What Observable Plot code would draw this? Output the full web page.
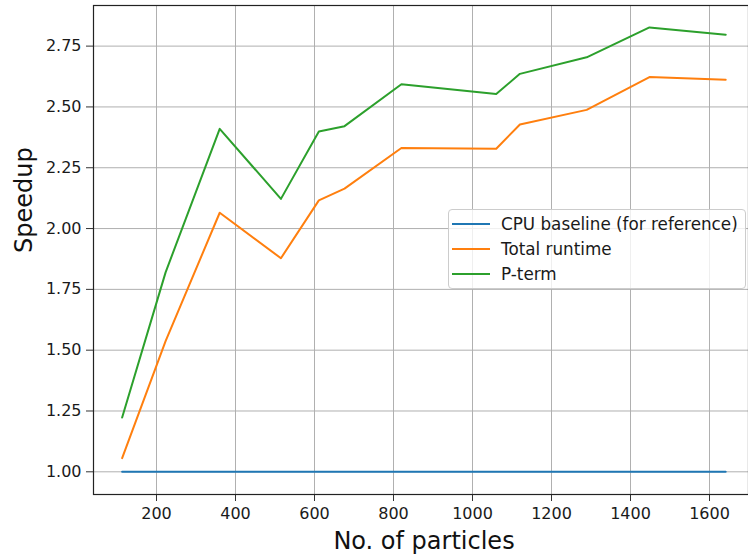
<!DOCTYPE html>
<html>
<head>
<meta charset="utf-8">
<script src="https://cdn.jsdelivr.net/npm/d3@7"></script>
<script src="https://cdn.jsdelivr.net/npm/@observablehq/plot@0.6"></script>
<style>
  html, body { margin: 0; padding: 0; background: #fff; overflow: hidden; }
  #wrap { position: relative; width: 748px; height: 556px; font-family: "DejaVu Sans", sans-serif; }
  #legend {
    position: absolute; left: 448px; top: 209px; width: 298px; height: 80px;
    background: rgba(255,255,255,0.8); border: 1px solid #cccccc; border-radius: 4px;
    box-sizing: border-box; font-size: 16.8px; color: #1a1a1a;
  }
  #legend .row { position: absolute; left: 0; height: 20px; }
  #legend .sw { position: absolute; left: 3px; width: 38px; height: 2px; }
  #legend .lab { position: absolute; left: 52px; top: 0; white-space: nowrap; line-height: 20px; }
</style>
</head>
<body>
<div id="wrap"></div>
<script>
const particles = [113, 223, 360, 515, 611, 676, 820, 1060, 1120, 1289, 1448, 1641];
const cpuBaseline = [1, 1, 1, 1, 1, 1, 1, 1, 1, 1, 1, 1];
const totalRuntime = [1.056, 1.537, 2.065, 1.878, 2.116, 2.164, 2.331, 2.328, 2.428, 2.488, 2.623, 2.612];
const pTerm = [1.223, 1.82, 2.41, 2.122, 2.399, 2.421, 2.593, 2.553, 2.636, 2.704, 2.827, 2.797];
const seriesNames = ["CPU baseline (for reference)", "Total runtime", "P-term"];
const seriesColors = ["#1f77b4", "#ff7f0e", "#2ca02c"];
const xTicks = [200, 400, 600, 800, 1000, 1200, 1400, 1600];
const yTicks = [1.00, 1.25, 1.50, 1.75, 2.00, 2.25, 2.50, 2.75];

const seriesValues = [cpuBaseline, totalRuntime, pTerm];
const rows = [];
seriesValues.forEach((vals, si) => {
  vals.forEach((v, i) => rows.push({series: seriesNames[si], x: particles[i], y: v}));
});

const font = "DejaVu Sans, sans-serif";
const chart = Plot.plot({
  width: 748,
  height: 556,
  marginLeft: 93,
  marginRight: 0,
  marginTop: 5,
  marginBottom: 62,
  style: {fontFamily: font, fontSize: "16px", color: "#1a1a1a", background: "#fff"},
  x: {domain: [40.5, 1698.7], ticks: xTicks, tickFormat: d3.format("d"), label: null},
  y: {domain: [0.9067, 2.917], ticks: yTicks, tickFormat: d3.format(".2f"), label: null},
  color: {domain: seriesNames, range: seriesColors},
  marks: [
    Plot.gridX(xTicks, {stroke: "#b0b0b0", strokeOpacity: 1, strokeWidth: 1}),
    Plot.gridY(yTicks, {stroke: "#b0b0b0", strokeOpacity: 1, strokeWidth: 1}),
    Plot.line(rows, {x: "x", y: "y", z: "series", stroke: "series", strokeWidth: 2}),
    Plot.axisX(xTicks, {tickSize: 7, tickPadding: 6, stroke: "#333", fontSize: 16, tickFormat: d3.format("d"), label: null}),
    Plot.axisY(yTicks, {tickSize: 7, tickPadding: 5, stroke: "#333", fontSize: 16, tickFormat: d3.format(".2f"), label: null}),
    Plot.frame({stroke: "#222", strokeWidth: 1.2}),
    Plot.text(["No. of particles"], {frameAnchor: "bottom", lineAnchor: "bottom", dx: 3, dy: 54, fontSize: 24, fill: "#111"}),
    Plot.text(["Speedup"], {frameAnchor: "left", dx: -69, dy: 3, rotate: -90, fontSize: 24, fill: "#111"})
  ]
});
const wrap = document.getElementById("wrap");
wrap.appendChild(chart);

const legend = document.createElement("div");
legend.id = "legend";
seriesNames.forEach((name, i) => {
  const row = document.createElement("div");
  row.className = "row";
  row.style.top = (4 + i * 25) + "px";
  const sw = document.createElement("div");
  sw.className = "sw";
  sw.style.background = seriesColors[i];
  sw.style.top = "9px";
  const lab = document.createElement("div");
  lab.className = "lab";
  lab.textContent = name;
  row.appendChild(sw);
  row.appendChild(lab);
  legend.appendChild(row);
});
wrap.appendChild(legend);
</script>
</body>
</html>
